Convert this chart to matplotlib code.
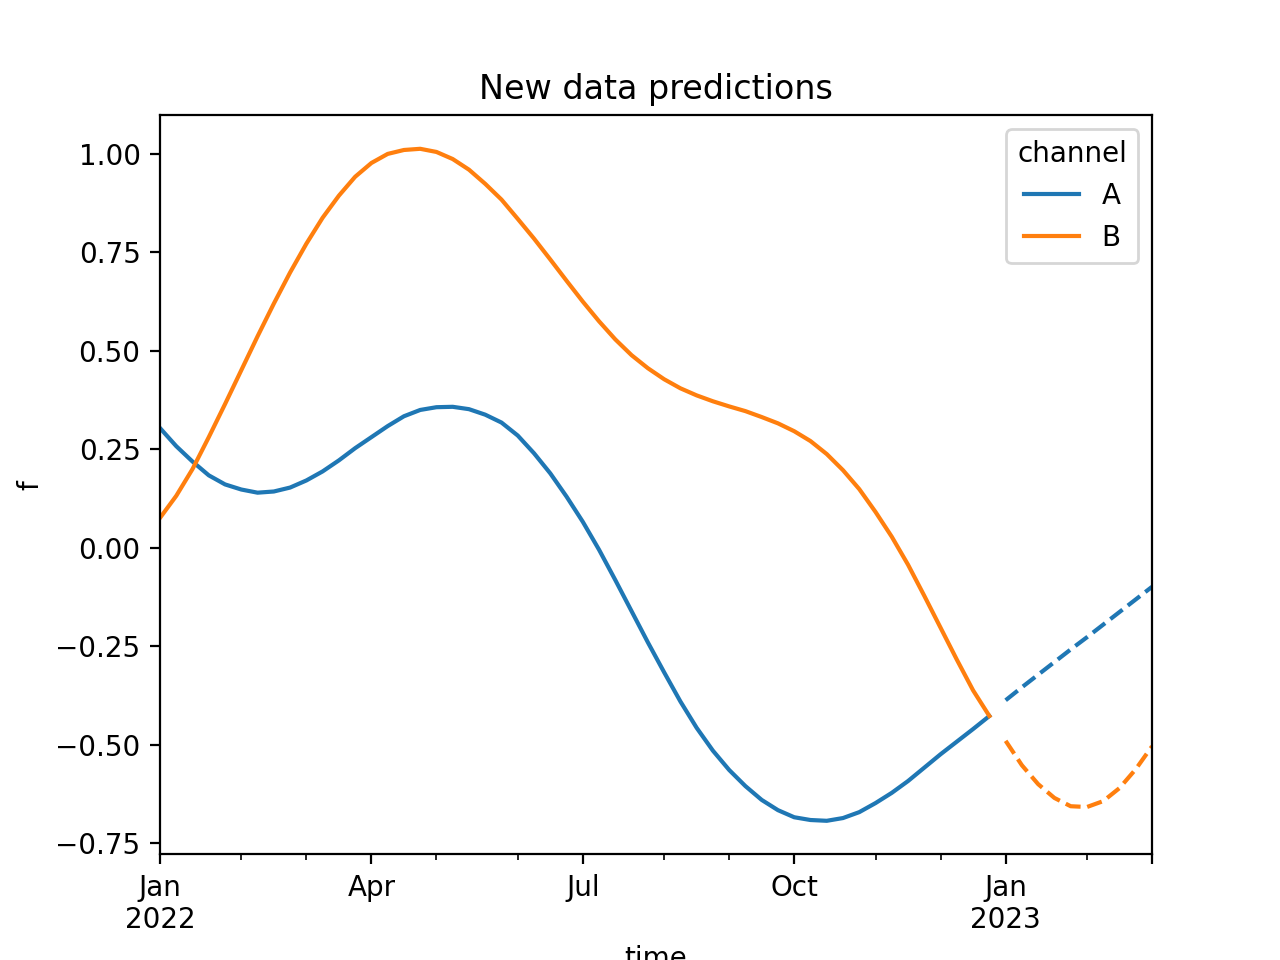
import pandas as pd
import matplotlib
matplotlib.use("Agg")
import matplotlib.pyplot as plt

# weekly fitted values (2022) and forecast (early 2023)
dates_fit = pd.date_range("2022-01-02", periods=52, freq="W")
dates_new = pd.date_range("2023-01-01", periods=10, freq="W")

a_fit = [0.304, 0.258, 0.219, 0.184, 0.161, 0.148, 0.140, 0.143, 0.153, 0.171,
         0.194, 0.222, 0.253, 0.281, 0.309, 0.334, 0.350, 0.357, 0.358, 0.352,
         0.338, 0.318, 0.285, 0.240, 0.189, 0.130, 0.066, -0.005, -0.082, -0.161,
         -0.240, -0.316, -0.390, -0.457, -0.515, -0.564, -0.605, -0.640, -0.666, -0.684,
         -0.691, -0.693, -0.686, -0.671, -0.648, -0.622, -0.592, -0.558, -0.524, -0.492,
         -0.460, -0.427]
b_fit = [0.076, 0.132, 0.200, 0.281, 0.365, 0.451, 0.537, 0.620, 0.699, 0.772,
         0.838, 0.894, 0.942, 0.977, 1.000, 1.010, 1.013, 1.005, 0.987, 0.960,
         0.924, 0.884, 0.835, 0.785, 0.732, 0.678, 0.625, 0.575, 0.529, 0.489,
         0.456, 0.428, 0.405, 0.387, 0.372, 0.359, 0.347, 0.332, 0.316, 0.296,
         0.271, 0.238, 0.197, 0.149, 0.091, 0.028, -0.043, -0.122, -0.203, -0.284,
         -0.362, -0.427]
a_new = [-0.387, -0.354, -0.322, -0.290, -0.258, -0.227, -0.195, -0.163, -0.131, -0.099]
b_new = [-0.490, -0.552, -0.600, -0.635, -0.656, -0.658, -0.643, -0.610, -0.562, -0.504]

fit = pd.DataFrame({"A": a_fit, "B": b_fit}, index=pd.Index(dates_fit, name="time"))
fit.columns.name = "channel"
new = pd.DataFrame({"A": a_new, "B": b_new}, index=pd.Index(dates_new, name="time"))
new.columns.name = "channel"

fig, ax = plt.subplots(figsize=(6.4, 4.8), dpi=200)
fit.plot(ax=ax)
new.plot(ax=ax, style="--", color=["C0", "C1"], legend=False)

ax.set_title("New data predictions")
ax.set_ylabel("f")
handles, labels = ax.get_legend_handles_labels()
ax.legend(handles[:2], labels[:2], title="channel", loc="upper right")

fig.savefig("out.png", dpi=200)
